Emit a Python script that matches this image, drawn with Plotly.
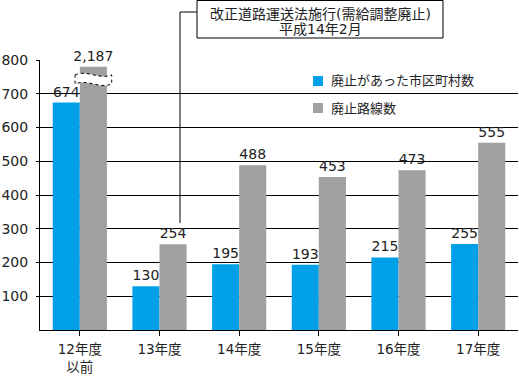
import plotly.graph_objects as go

categories = ["12年度<br>以前", "13年度", "14年度", "15年度", "16年度", "17年度"]
municipalities = [674, 130, 195, 193, 215, 255]
routes = [2187, 254, 488, 453, 473, 555]
series_names = ["廃止があった市区町村数", "廃止路線数"]
y_ticks = [100, 200, 300, 400, 500, 600, 700, 800]
axis_cap = 780  # bars above this are drawn broken (2,187 shown truncated)
note_lines = ["改正道路運送法施行(需給調整廃止)", "平成14年2月"]

BLUE = "#00a0e9"
GRAY = "#a0a0a0"
FONT = "DejaVu Sans, Noto Sans CJK JP, sans-serif"

W, H = 519, 376
L, R, T, B = 40, 1, 60, 46
PW, PH = W - L - R, H - T - B


def px(x):
    return (x - L) / PW


def py(y):
    return (T + PH - y) / PH


bargap = 0.32
routes_drawn = [min(v, axis_cap) for v in routes]

fig = go.Figure()
fig.add_trace(go.Bar(
    x=list(range(len(categories))), y=municipalities, name=series_names[0],
    marker=dict(color=BLUE, line=dict(width=0)),
    text=[f"{v:,}" for v in municipalities], textposition="outside",
    constraintext="none",
    textfont=dict(size=14, color="#222222", family=FONT), cliponaxis=False,
    showlegend=False,
))
fig.add_trace(go.Bar(
    x=list(range(len(categories))), y=routes_drawn, name=series_names[1],
    marker=dict(color=GRAY, line=dict(width=0)),
    text=[f"{v:,}" for v in routes], textposition="outside",
    constraintext="none",
    textfont=dict(size=14, color="#222222", family=FONT), cliponaxis=False,
    showlegend=False,
))

# break mark on the truncated bar
bw = (1 - bargap) / 2
cx = bw / 2
half = 0.23
x0, x1 = cx - half, cx + half
w = x1 - x0
yt = axis_cap - 24
band = 27
a = 16
path = (f"M {x0},{yt} C {x0 + w/3},{yt + a} {x0 + 2*w/3},{yt - a} {x1},{yt} "
        f"L {x1},{yt - band} C {x0 + 2*w/3},{yt - band - a} {x0 + w/3},{yt - band + a} {x0},{yt - band} Z")
shapes = [dict(type="path", xref="x", yref="y", path=path, fillcolor="white",
               line=dict(color="black", width=1, dash="dot"), layer="above")]

# note box with connector line
shapes.append(dict(type="rect", xref="paper", yref="paper",
                   x0=px(197), x1=px(443), y0=py(38), y1=py(0.5),
                   line=dict(color="black", width=1), fillcolor="white"))
shapes.append(dict(type="line", xref="paper", yref="paper",
                   x0=px(180), x1=px(180), y0=py(12), y1=py(223),
                   line=dict(color="black", width=1)))
shapes.append(dict(type="line", xref="paper", yref="paper",
                   x0=px(180), x1=px(197), y0=py(12), y1=py(12),
                   line=dict(color="black", width=1)))

annotations = [
    dict(xref="paper", yref="paper", x=px(320), y=py(14), text=note_lines[0],
         showarrow=False, font=dict(size=14, color="#222222", family=FONT),
         xanchor="center", yanchor="middle"),
    dict(xref="paper", yref="paper", x=px(320), y=py(29), text=note_lines[1],
         showarrow=False, font=dict(size=14, color="#222222", family=FONT),
         xanchor="center", yanchor="middle"),
]

# manual legend
for i, (name, col) in enumerate(zip(series_names, [BLUE, GRAY])):
    cy = 81 + i * 27
    shapes.append(dict(type="rect", xref="paper", yref="paper",
                       x0=px(313), x1=px(323), y0=py(cy + 5), y1=py(cy - 5),
                       fillcolor=col, line=dict(width=0)))
    annotations.append(dict(xref="paper", yref="paper", x=px(329), y=py(cy),
                            text=name, showarrow=False, xanchor="left", yanchor="middle",
                            font=dict(size=13, color="#222222", family=FONT)))

fig.update_layout(
    width=W, height=H,
    margin=dict(l=L, r=R, t=T, b=B, autoexpand=False),
    paper_bgcolor="white", plot_bgcolor="white",
    barmode="group", bargap=bargap, bargroupgap=0,
    shapes=shapes, annotations=annotations,
    font=dict(family=FONT, size=14, color="#222222"),
)
fig.update_xaxes(
    range=[-0.5, len(categories) - 0.5], automargin=False,
    tickmode="array", tickvals=list(range(len(categories))), ticktext=categories,
    ticks="outside", ticklen=5, tickcolor="black", tickson="boundaries",
    showline=True, linecolor="black", linewidth=1, showgrid=False,
    tickfont=dict(size=13.5, family=FONT, color="#222222"), ticklabelstandoff=2,
)
fig.update_yaxes(
    range=[0, 800], automargin=False, tickvals=y_ticks, ticks="outside", ticklen=3, tickcolor="black",
    showline=True, linecolor="black", linewidth=1,
    showgrid=True, gridcolor="black", gridwidth=1, zeroline=False,
    tickfont=dict(size=14, family=FONT, color="#222222"), ticklabelstandoff=5,
)

fig.write_html(
    "out.html",
    config={"displayModeBar": False},
    post_script="document.body.style.margin='0';document.body.style.padding='0';document.body.style.overflow='hidden';",
)
